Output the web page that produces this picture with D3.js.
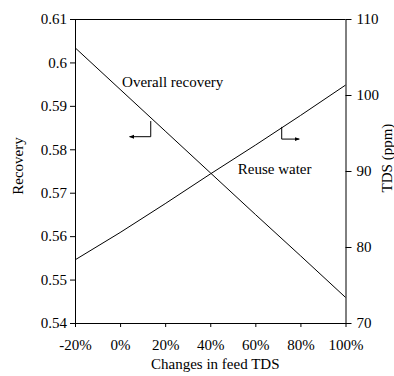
<!DOCTYPE html>
<html>
<head>
<meta charset="utf-8">
<script src="https://cdn.jsdelivr.net/npm/d3@7"></script>
<style>
  body { margin: 0; background: #fff; }
  svg text { font-family: "Liberation Serif", "Times New Roman", serif; fill: #000; }
</style>
</head>
<body>
<div id="chart"></div>
<script>
// feed TDS change (%), recovery (left axis), reuse water TDS (ppm, right axis)
var feedChange = [-20, 0, 20, 40, 60, 80, 100];
var recovery = [0.6034, 0.5938, 0.5842, 0.5746, 0.5650, 0.5555, 0.5459];
var reuseTds = [78.3, 81.9, 85.7, 89.6, 93.4, 97.3, 101.3];
var xTicks = [-20, 0, 20, 40, 60, 80, 100];
var leftTicks = [0.54, 0.55, 0.56, 0.57, 0.58, 0.59, 0.60, 0.61];
var rightTicks = [70, 80, 90, 100, 110];

var W = 394, H = 376;
var m = { left: 75, right: 48.5, top: 19, bottom: 53 };
var pw = W - m.left - m.right, ph = H - m.top - m.bottom;

var svg = d3.select('#chart').append('svg').attr('width', W).attr('height', H);

svg.append('defs').append('marker')
  .attr('id', 'arr').attr('viewBox', '0 0 10 10').attr('refX', 9).attr('refY', 5)
  .attr('markerWidth', 5).attr('markerHeight', 5).attr('orient', 'auto')
  .append('path').attr('d', 'M0,1L10,5L0,9z').attr('fill', '#000');

var g = svg.append('g').attr('transform', 'translate(' + m.left + ',' + m.top + ')');

var x = d3.scaleLinear().domain([-20, 100]).range([0, pw]);
var yL = d3.scaleLinear().domain([0.54, 0.61]).range([ph, 0]);
var yR = d3.scaleLinear().domain([70, 110]).range([ph, 0]);

// top frame line
g.append('line').attr('x1', 0).attr('x2', pw).attr('y1', 0.5).attr('y2', 0.5)
  .attr('stroke', '#000').attr('stroke-width', 1);

function styleAxis(sel) {
  sel.select('.domain').attr('stroke', '#000');
  sel.selectAll('.tick line').attr('stroke', '#000');
  sel.selectAll('text').attr('font-size', '15px').style('font-family', '"Liberation Serif", serif').attr('fill', '#000');
}

g.append('g').attr('transform', 'translate(0,' + ph + ')')
  .call(d3.axisBottom(x).tickValues(xTicks).tickSize(4).tickSizeOuter(0).tickPadding(12)
    .tickFormat(function(d) { return d + '%'; }))
  .call(styleAxis);

g.append('g')
  .call(d3.axisLeft(yL).tickValues(leftTicks).tickSize(5).tickSizeOuter(0).tickPadding(3)
    .tickFormat(function(d) { return d3.format('')(+d.toFixed(2)); }))
  .call(styleAxis);

g.append('g').attr('transform', 'translate(' + pw + ',0)')
  .call(d3.axisRight(yR).tickValues(rightTicks).tickSize(6).tickSizeOuter(0).tickPadding(5))
  .call(styleAxis);

var recLine = d3.line().x(function(d, i) { return x(feedChange[i]); }).y(function(d) { return yL(d); });
var tdsLine = d3.line().x(function(d, i) { return x(feedChange[i]); }).y(function(d) { return yR(d); });

g.append('path').datum(recovery).attr('d', recLine).attr('fill', 'none').attr('stroke', '#000').attr('stroke-width', 1);
g.append('path').datum(reuseTds).attr('d', tdsLine).attr('fill', 'none').attr('stroke', '#000').attr('stroke-width', 1);

// annotations
g.append('text').attr('x', x(0.9)).attr('y', yL(0.5943)).attr('font-size', '15px').text('Overall recovery');
g.append('text').attr('x', x(52.2)).attr('y', yR(89.6)).attr('font-size', '15px').text('Reuse water');

g.append('path')
  .attr('d', 'M' + x(13.6) + ',' + yL(0.5865) + 'V' + yL(0.5829) + 'H' + x(4.2))
  .attr('fill', 'none').attr('stroke', '#000').attr('marker-end', 'url(#arr)');
g.append('path')
  .attr('d', 'M' + x(71.7) + ',' + yR(95.8) + 'V' + yR(94.2) + 'H' + x(79.5))
  .attr('fill', 'none').attr('stroke', '#000').attr('marker-end', 'url(#arr)');

// axis titles
svg.append('text').attr('x', m.left + pw / 2 + 5).attr('y', 369).attr('text-anchor', 'middle')
  .attr('font-size', '15px').text('Changes in feed TDS');
svg.append('text').attr('transform', 'translate(23,166) rotate(-90)').attr('text-anchor', 'middle')
  .attr('font-size', '15px').text('Recovery');
svg.append('text').attr('transform', 'translate(392,158) rotate(-90)').attr('text-anchor', 'middle')
  .attr('font-size', '15px').text('TDS (ppm)');
</script>
</body>
</html>
